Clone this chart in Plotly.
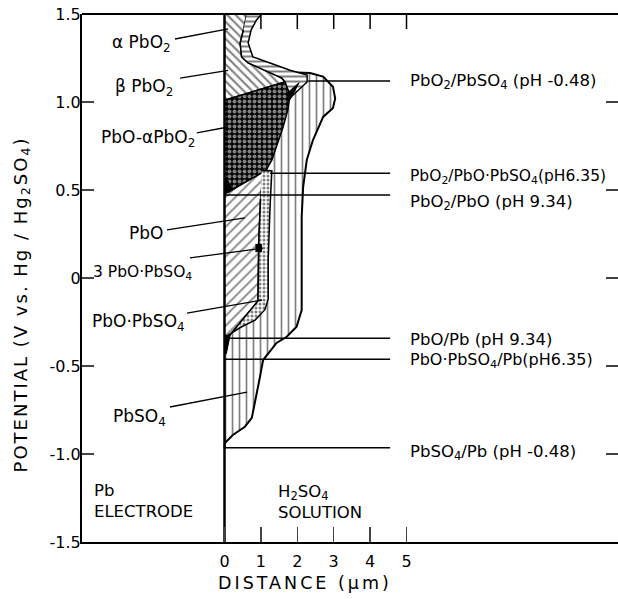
import plotly.graph_objects as go

# ---------------- data ----------------
y_ticks = [-1.5, -1.0, -0.5, 0, 0.5, 1.0, 1.5]
y_tick_text = ["-1.5", "-1.0", "-0.5", "0", "0.5", "1.0", "1.5"]
x_ticks = [0, 1, 2, 3, 4, 5]
right_ticks = [1.0, 0.5, 0, -0.5, -1.0]

# outer PbSO4 layer (vertical hatch), distance (um) vs potential (V)
pbso4_x = [0, 1.43, 2.35, 2.71, 2.98, 3.04, 2.98, 2.71, 2.43, 2.26, 2.16, 2.12, 2.12, 2.13,
           2.12, 1.98, 1.71, 1.43, 1.2, 1.06, 0.975, 0.84, 0.75, 0.56, 0.23, 0.01, 0]
pbso4_y = [1.17, 1.172, 1.165, 1.144, 1.087, 1.02, 0.966, 0.915, 0.784, 0.67, 0.517, 0.347, 0.159, -0.068,
           -0.182, -0.277, -0.334, -0.369, -0.426, -0.466, -0.561, -0.693, -0.795, -0.845, -0.892, -0.9375, -0.966]

# inner alpha/beta PbO2 (back-slash hatch)
pbo2_in_x = [0, 0.61, 0.52, 0.43, 0.47, 0.65, 1.03, 1.58, 1.66, 0]
pbo2_in_y = [1.5, 1.5, 1.409, 1.335, 1.256, 1.222, 1.1875, 1.136, 1.114, 1.01]

# outer PbO2 band (horizontal hatch)
pbo2_out_x = [0.61, 1.02, 0.88, 0.73, 0.65, 0.78, 1.25, 1.8, 2.27, 2.27, 1.8, 1.66, 1.58, 1.03, 0.65, 0.47, 0.43, 0.52]
pbo2_out_y = [1.5, 1.5, 1.466, 1.409, 1.335, 1.256, 1.222, 1.18, 1.153, 1.114, 1.023, 1.114, 1.136, 1.1875, 1.222, 1.256, 1.335, 1.409]

# PbO - alpha PbO2 (dark cross hatch)
cross_x = [0, 1.66, 1.8, 1.74, 1.61, 1.47, 1.30, 1.11, 0.12, 0]
cross_y = [1.01, 1.114, 1.04, 0.955, 0.858, 0.767, 0.67, 0.602, 0.49, 0.48]

# PbO (slash hatch)
pbo_x = [0, 0.12, 1.06, 0.99, 0.95, 0.93, 0.92, 0.15, 0]
pbo_y = [0.48, 0.49, 0.602, 0.45, 0.25, 0.1, -0.13, -0.324, -0.33]

# basic sulphates (dotted)
dot_x = [1.02, 1.3, 1.25, 1.2, 1.2, 1.11, 0.84, 0.47, 0.10, 0.15, 0.92, 0.93, 0.95, 0.99]
dot_y = [0.61, 0.61, 0.4, 0.1, -0.12, -0.18, -0.239, -0.277, -0.324, -0.324, -0.13, 0.1, 0.25, 0.45]

# small solid black spots
black_x = [[0.02, 0.22, 0.05, 0.0], [1.72, 2.05, 1.82, 1.74], [0.85, 1.02, 1.02, 0.85], [0, 0.15, 0.05, 0]]
black_y = [[0.48, 0.50, 0.57, 0.56], [1.05, 1.11, 1.02, 1.0], [0.15, 0.15, 0.19, 0.19], [-0.33, -0.33, -0.43, -0.43]]

# equilibrium potential lines
eq_y = [1.119, 0.595, 0.472, -0.343, -0.462, -0.964]
eq_x_start = [2.3, 1.25, 0, 0, 0, 0]
eq_x_end = [4.55, 4.55, 4.55, 4.55, 4.55, 4.55]
eq_labels = ["PbO<sub>2</sub>/PbSO<sub>4</sub> (pH -0.48)",
             "PbO<sub>2</sub>/PbO·PbSO<sub>4</sub>(pH6.35)",
             "PbO<sub>2</sub>/PbO (pH 9.34)",
             "PbO/Pb (pH 9.34)",
             "PbO·PbSO<sub>4</sub>/Pb(pH6.35)",
             "PbSO<sub>4</sub>/Pb (pH -0.48)"]
eq_label_size = [16.5, 15.5, 16.5, 16.5, 16, 16.5]
eq_label_y = [1.114, 0.572, 0.43, -0.352, -0.466, -0.989]
eq_label_x = 5.04

# phase labels on the left with pointer lines
phase_labels = ["α PbO<sub>2</sub>", "β PbO<sub>2</sub>", "PbO-αPbO<sub>2</sub>", "PbO",
                "3 PbO·PbSO<sub>4</sub>", "PbO·PbSO<sub>4</sub>", "PbSO<sub>4</sub>"]
phase_label_size = [17, 17, 17, 17, 15.5, 17, 17]
phase_label_x = [-1.41, -1.35, -0.76, -1.63, -0.85, -1.03, -1.55]
phase_label_y = [1.33, 1.08, 0.795, 0.256, 0.03, -0.25, -0.79]
ptr_x0 = [-1.36, -1.22, -0.76, -1.58, -0.95, -1.03, -1.5]
ptr_y0 = [1.358, 1.136, 0.824, 0.273, 0.114, -0.199, -0.733]
ptr_x1 = [0.1, 0.1, 0.1, 0.56, 1.06, 1.03, 0.62]
ptr_y1 = [1.415, 1.18, 0.858, 0.341, 0.17, -0.125, -0.648]

X_MIN, X_MAX = -3.915, 10.81
FONT = "DejaVu Sans"

fig = go.Figure()


def region(xs, ys, shape, size, solidity, lw=1.5, fg="black", bg="white"):
    fig.add_trace(go.Scatter(
        x=xs, y=ys, mode="lines", fill="toself", fillcolor=bg,
        fillpattern=dict(shape=shape, size=size, solidity=solidity, fgcolor=fg, bgcolor=bg),
        line=dict(color="black", width=lw), hoverinfo="skip", showlegend=False))


region(pbso4_x, pbso4_y, "|", 7, 0.24, lw=2)
region(pbo2_in_x, pbo2_in_y, "\\", 6, 0.35)
region(pbo2_out_x, pbo2_out_y, "-", 5, 0.4)
region(cross_x, cross_y, ".", 5, 0.5, fg="white", bg="black")
region(pbo_x, pbo_y, "/", 7, 0.24)
region(dot_x, dot_y, ".", 4, 0.45)

for bx, by in zip(black_x, black_y):
    fig.add_trace(go.Scatter(x=bx, y=by, mode="lines", fill="toself", fillcolor="black",
                             line=dict(color="black", width=1), hoverinfo="skip", showlegend=False))

# equilibrium lines
lx, ly = [], []
for xs, xe, yv in zip(eq_x_start, eq_x_end, eq_y):
    lx += [xs, xe, None]
    ly += [yv, yv, None]
fig.add_trace(go.Scatter(x=lx, y=ly, mode="lines", line=dict(color="black", width=1.5),
                         hoverinfo="skip", showlegend=False))

# pointer lines
px, py = [], []
for a, b, c, d in zip(ptr_x0, ptr_y0, ptr_x1, ptr_y1):
    px += [a, c, None]
    py += [b, d, None]
fig.add_trace(go.Scatter(x=px, y=py, mode="lines", line=dict(color="black", width=1.3),
                         hoverinfo="skip", showlegend=False))

# electrode surface line
fig.add_trace(go.Scatter(x=[0, 0], y=[y_ticks[0], y_ticks[-1]], mode="lines",
                         line=dict(color="black", width=2.5), hoverinfo="skip", showlegend=False))

# frame pieces drawn as shapes: top line, top ticks, right ticks
shapes = [dict(type="line", xref="paper", yref="paper", x0=0, x1=1, y0=1, y1=1,
               line=dict(color="black", width=2))]
shapes += [dict(type="line", xref="x", yref="paper", x0=xv, x1=xv, y0=1, y1=1 - 15 / 528,
                line=dict(color="black", width=1.5)) for xv in x_ticks[1:]]
shapes += [dict(type="line", xref="paper", yref="y", x0=1 - 12 / 536, x1=1, y0=yv, y1=yv,
                line=dict(color="black", width=1.5)) for yv in right_ticks]

ann = []
for t, yv, fs in zip(eq_labels, eq_label_y, eq_label_size):
    ann.append(dict(x=eq_label_x, y=yv, text=t, xanchor="left", yanchor="middle", showarrow=False,
                    font=dict(family=FONT, size=fs, color="black")))
for t, xv, yv, fs in zip(phase_labels, phase_label_x, phase_label_y, phase_label_size):
    ann.append(dict(x=xv, y=yv, text=t, xanchor="right", yanchor="middle", showarrow=False,
                    font=dict(family=FONT, size=fs, color="black")))
ann.append(dict(x=-3.64, y=-1.267, text="Pb<br>ELECTRODE", align="left", xanchor="left", yanchor="middle",
                showarrow=False, font=dict(family=FONT, size=16.5, color="black")))
ann.append(dict(x=1.41, y=-1.273, text="H<sub>2</sub>SO<sub>4</sub><br>SOLUTION", align="left", xanchor="left",
                yanchor="middle", showarrow=False, font=dict(family=FONT, size=16.5, color="black")))
ann.append(dict(x=2.21, xref="x", y=-0.0777, yref="paper",
                text="<span style='letter-spacing:3px'>DISTANCE (μm)</span>", xanchor="center",
                yanchor="middle", showarrow=False, font=dict(family=FONT, size=17.5, color="black")))
ann.append(dict(x=-0.1119, xref="paper", y=0.45, yref="paper",
                text="<span style='letter-spacing:2px'>POTENTIAL (V vs. Hg / Hg<sub>2</sub>SO<sub>4</sub>)</span>",
                textangle=-90, xanchor="center", yanchor="middle", showarrow=False,
                font=dict(family=FONT, size=18, color="black")))

fig.update_layout(
    width=618, height=599, margin=dict(l=82, r=0, t=14, b=57, autoexpand=False),
    plot_bgcolor="white", paper_bgcolor="white", showlegend=False,
    annotations=ann, shapes=shapes,
    xaxis=dict(range=[X_MIN, X_MAX], tickvals=x_ticks, ticks="inside", ticklen=15, tickwidth=1.5,
               showline=True, linewidth=2, linecolor="black", mirror=False, showgrid=False, zeroline=False,
               tickfont=dict(family=FONT, size=16, color="black"), ticklabelstandoff=4, automargin=False),
    yaxis=dict(range=[y_ticks[0], y_ticks[-1]], tickvals=y_ticks, ticktext=y_tick_text, ticks="inside",
               ticklen=12, tickwidth=1.5, showline=True, linewidth=2, linecolor="black", showgrid=False,
               zeroline=False, tickfont=dict(family=FONT, size=16, color="black"), ticklabelstandoff=-4,
               automargin=False),
)

js = """
document.body.style.margin='0';document.body.style.overflow='hidden';
function cleanRight(){
  document.querySelectorAll('svg path, svg line, svg rect').forEach(function(el){
    var r=el.getBoundingClientRect();
    if(r.left>590 && r.width<8 && r.height>300 && el.parentNode){ el.parentNode.removeChild(el); }
  });
}
cleanRight(); setTimeout(cleanRight, 50); setTimeout(cleanRight, 250);
"""
fig.write_html("out.html", config={"staticPlot": True}, post_script=js)
